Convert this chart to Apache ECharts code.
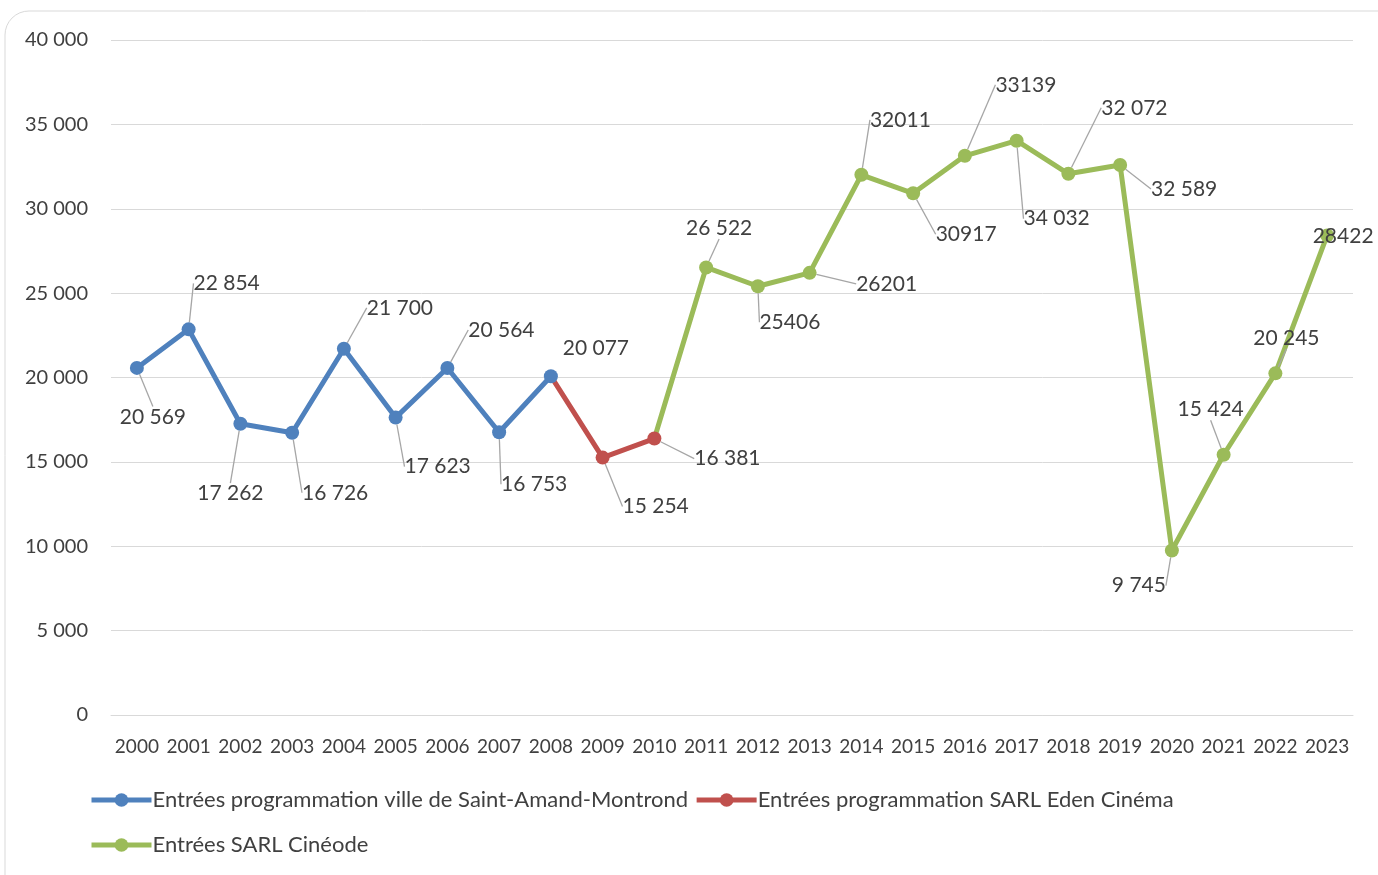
<!DOCTYPE html>
<html>
<head>
<meta charset="utf-8">
<script src="https://cdn.jsdelivr.net/npm/echarts@6/dist/echarts.min.js"></script>
<style>
  html, body { margin: 0; padding: 0; background: #fff; }
  #chart { width: 1378px; height: 875px; }
</style>
</head>
<body>
<div id="chart"></div>
<script>
const years = ['2000','2001','2002','2003','2004','2005','2006','2007','2008','2009','2010','2011',
  '2012','2013','2014','2015','2016','2017','2018','2019','2020','2021','2022','2023'];

// entrées par période d'exploitation (null = hors période)
const villeSAM = [20569, 22854, 17262, 16726, 21700, 17623, 20564, 16753, 20077,
  null, null, null, null, null, null, null, null, null, null, null, null, null, null, null];
const edenCinema = [null, null, null, null, null, null, null, null, 20077, 15254, 16381,
  null, null, null, null, null, null, null, null, null, null, null, null, null];
const cineode = [null, null, null, null, null, null, null, null, null, null, 16381,
  26522, 25406, 26201, 32011, 30917, 33139, 34032, 32072, 32589, 9745, 15424, 20245, 28422];

// libellés tels qu'affichés (certains sans séparateur de milliers)
const valueLabels = ['20 569','22 854','17 262','16 726','21 700','17 623','20 564','16 753','20 077',
  '15 254','16 381','26 522','25406','26201','32011','30917','33139','34 032','32 072','32 589',
  '9 745','15 424','20 245','28422'];

const yTicks = [0, 5000, 10000, 15000, 20000, 25000, 30000, 35000, 40000];

const names = ['Entrées programmation ville de Saint-Amand-Montrond',
  'Entrées programmation SARL Eden Cinéma', 'Entrées SARL Cinéode'];

// décalage des étiquettes par rapport au point (px)
const labelOffsets = [
  [16, 49], [38, -46], [-10, 70], [43, 60], [56, -41], [42, 49], [54, -38], [35, 52], [45, -28],
  [53, 49], [73, 20], [13, -39], [32, 36], [77, 11], [39, -55], [53, 41], [61, -71], [40, 78],
  [66, -66], [64, 24], [-33, 35], [-13, -45], [11, -35], [16, 1]
];
const noLine = [8, 23];

const fontFamily = 'Lato, "Open Sans", sans-serif';
const textColor = '#404040';

function buildData(values, skip) {
  return values.map((v, i) => {
    if (v === null) return null;
    if (i === skip) return { value: v, label: { show: false }, symbolSize: 0 };
    if (noLine.indexOf(i) >= 0) return { value: v, labelLine: { show: false } };
    return v;
  });
}

function makeSeries(name, values, color, z, skip) {
  return {
    name: name,
    type: 'line',
    z: z,
    data: buildData(values, skip),
    symbol: 'circle',
    symbolSize: 14,
    lineStyle: { color: color, width: 5 },
    itemStyle: { color: color },
    label: {
      show: true,
      color: textColor,
      fontFamily: fontFamily,
      fontSize: 21,
      formatter: p => valueLabels[p.dataIndex]
    },
    labelLine: {
      show: true,
      lineStyle: { color: '#a6a6a6', width: 1.3 }
    },
    labelLayout: function (params) {
      const o = labelOffsets[params.dataIndex];
      return {
        x: params.rect.x + params.rect.width / 2 + o[0],
        y: params.rect.y + params.rect.height / 2 + o[1],
        align: 'center',
        verticalAlign: 'middle'
      };
    },
    emphasis: { disabled: true },
    animation: false
  };
}

const legendBase = {
  left: 84,
  itemWidth: 60,
  itemHeight: 17,
  itemGap: 6,
  lineStyle: { width: 5 },
  textStyle: { color: textColor, fontFamily: fontFamily, fontSize: 22, padding: [0, 0, 0, -4] }
};

const chart = echarts.init(document.getElementById('chart'));
chart.setOption({
  backgroundColor: '#fff',
  animation: false,
  graphic: [{
    type: 'rect',
    shape: { x: 5, y: 11, width: 1400, height: 900, r: 24 },
    style: { fill: 'none', stroke: '#d9d9d9', lineWidth: 1 },
    z: -10,
    silent: true
  }],
  grid: { left: 111, right: 25, top: 40, bottom: 160 },
  legend: [
    Object.assign({}, legendBase, { top: 784, data: [names[0], names[1]] }),
    Object.assign({}, legendBase, { top: 829, data: [names[2]] })
  ],
  xAxis: {
    type: 'category',
    data: years,
    boundaryGap: true,
    axisLine: { lineStyle: { color: '#d9d9d9', width: 1 } },
    axisTick: { show: false },
    axisLabel: { interval: 0, color: textColor, fontFamily: fontFamily, fontSize: 19, margin: 22 }
  },
  yAxis: {
    type: 'value',
    min: yTicks[0],
    max: yTicks[yTicks.length - 1],
    interval: 5000,
    axisLine: { show: false },
    axisTick: { show: false },
    splitLine: { lineStyle: { color: '#d9d9d9', width: 1 } },
    axisLabel: {
      color: textColor, fontFamily: fontFamily, fontSize: 20, margin: 23,
      formatter: v => v === 0 ? '0' : String(v).replace(/\B(?=(\d{3})+(?!\d))/g, ' ')
    }
  },
  series: [
    makeSeries(names[0], villeSAM, '#4f81bd', 4, -1),
    makeSeries(names[1], edenCinema, '#c0504d', 3, 8),
    makeSeries(names[2], cineode, '#9bbb59', 2, 10)
  ]
});
</script>
</body>
</html>
